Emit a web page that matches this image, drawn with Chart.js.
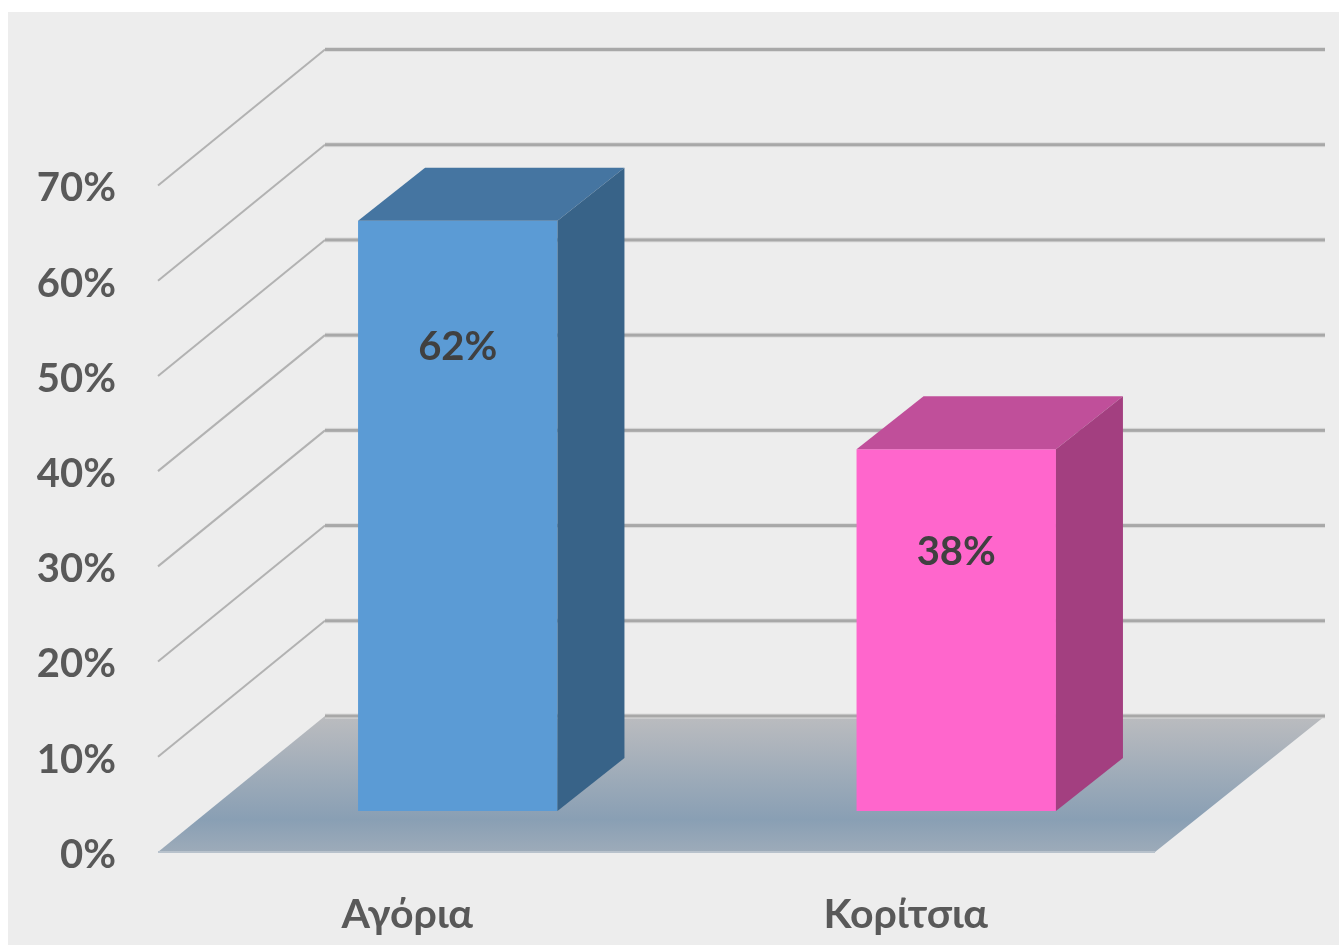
<!DOCTYPE html>
<html>
<head>
<meta charset="utf-8">
<style>
  html, body { margin: 0; padding: 0; background: #fff; }
  canvas { display: block; }
</style>
<script src="https://cdn.jsdelivr.net/npm/chart.js@4"></script>
</head>
<body>
<canvas id="chart" width="1339" height="945"></canvas>
<script>
var categories = ['Αγόρια', 'Κορίτσια'];
var shares = [62, 38];
var frontColors = ['#5b9bd5', '#ff66cc'];
var topColors = ['#4575a1', '#c04f9a'];
var sideColors = ['#386388', '#a33f80'];
var labelDrops = [126, 103];

// 3d look: depth of the floor, depth of a bar, where the bars stand on the floor
var DEPTH_X = 167, DEPTH_Y = 136;
var BAR_DX = 67, BAR_DY = 53;
var BAR_SHIFT_X = 50.5, BAR_SHIFT_Y = 41;
var WALL_RIGHT = 1325;
var TICK_DROP = 3;
var FONT = 'Lato, "Noto Sans", sans-serif';

function poly(ctx, pts, fill) {
  ctx.beginPath();
  ctx.moveTo(pts[0][0], pts[0][1]);
  for (var i = 1; i < pts.length; i++) ctx.lineTo(pts[i][0], pts[i][1]);
  ctx.closePath();
  ctx.fillStyle = fill;
  ctx.fill();
}

var scene3d = {
  id: 'scene3d',
  beforeDraw: function(chart) {
    var ctx = chart.ctx;
    ctx.save();
    ctx.fillStyle = '#ededed';
    ctx.fillRect(8, 12, chart.width - 8, chart.height - 12);
    ctx.restore();

    // y labels sit a little under their gridline start in the original
    var y = chart.scales.y;
    if (!y._dropped) {
      var drawLabels = y.drawLabels;
      y.drawLabels = function(a) {
        ctx.save();
        ctx.translate(0, TICK_DROP);
        drawLabels.call(y, a);
        ctx.restore();
      };
      y._dropped = true;
    }
  },
  beforeDatasetsDraw: function(chart) {
    var ctx = chart.ctx, y = chart.scales.y, area = chart.chartArea;
    var zero = y.getPixelForValue(0);
    ctx.save();

    var grad = ctx.createLinearGradient(0, zero - DEPTH_Y, 0, zero);
    grad.addColorStop(0, '#bbbcbf');
    grad.addColorStop(0.76, '#899fb4');
    grad.addColorStop(1, '#9dabb9');
    poly(ctx, [[area.left, zero], [area.left + DEPTH_X, zero - DEPTH_Y], [WALL_RIGHT, zero - DEPTH_Y], [area.right, zero]], grad);
    ctx.fillStyle = '#b8c2cc';
    ctx.fillRect(area.left, zero - 1, area.right - area.left, 2);

    y.ticks.forEach(function(t) {
      var py = y.getPixelForValue(t.value);
      var bx = area.left + DEPTH_X, by = py - DEPTH_Y;
      if (t.value > 0) {
        ctx.beginPath();
        ctx.moveTo(area.left, py);
        ctx.lineTo(bx, by);
        ctx.strokeStyle = '#b2b2b2';
        ctx.lineWidth = 2;
        ctx.stroke();
      }
      ctx.fillStyle = '#dcdcdc';
      ctx.fillRect(bx, by - 2.5, WALL_RIGHT - bx, 5);
      ctx.fillStyle = '#a8a8a8';
      ctx.fillRect(bx, by - 1.5, WALL_RIGHT - bx, 3);
    });
    ctx.restore();

    // the library draws the front faces, pushed back onto the floor
    ctx.save();
    ctx.translate(BAR_SHIFT_X, -BAR_SHIFT_Y);
  },
  afterDatasetsDraw: function(chart) {
    var ctx = chart.ctx;
    chart.getDatasetMeta(0).data.forEach(function(bar, i) {
      var l = bar.x - bar.width / 2, r = bar.x + bar.width / 2;
      poly(ctx, [[l, bar.y], [l + BAR_DX, bar.y - BAR_DY], [r + BAR_DX, bar.y - BAR_DY], [r, bar.y]], topColors[i]);
      poly(ctx, [[r, bar.y], [r + BAR_DX, bar.y - BAR_DY], [r + BAR_DX, bar.base - BAR_DY], [r, bar.base]], sideColors[i]);

      ctx.fillStyle = '#404040';
      ctx.font = 'bold 40px ' + FONT;
      ctx.textAlign = 'center';
      ctx.textBaseline = 'middle';
      ctx.fillText(shares[i] + '%', bar.x, bar.y + labelDrops[i]);
    });
    ctx.restore();
  }
};

new Chart(document.getElementById('chart'), {
  type: 'bar',
  data: {
    labels: categories,
    datasets: [{
      data: shares,
      backgroundColor: frontColors,
      borderWidth: 0,
      barPercentage: 0.4,
      categoryPercentage: 1,
      clip: false
    }]
  },
  options: {
    responsive: false,
    animation: false,
    layout: { padding: { left: 0, top: 185.5, right: 184, bottom: 0 } },
    plugins: { legend: { display: false }, tooltip: { enabled: false } },
    scales: {
      x: {
        grid: { display: false, drawTicks: false },
        border: { display: false },
        ticks: { color: '#595959', font: { family: FONT, size: 41, weight: 'bold' }, padding: 38, maxRotation: 0 },
        afterFit: function(s) { s.height = 93; }
      },
      y: {
        min: 0,
        max: 70,
        grid: { display: false, drawTicks: false },
        border: { display: false },
        ticks: {
          stepSize: 10,
          color: '#595959',
          font: { family: FONT, size: 40, weight: 'bold' },
          padding: 42,
          callback: function(v) { return v + '%'; }
        },
        afterFit: function(s) { s.width = 158; }
      }
    }
  },
  plugins: [scene3d]
});
</script>
</body>
</html>
